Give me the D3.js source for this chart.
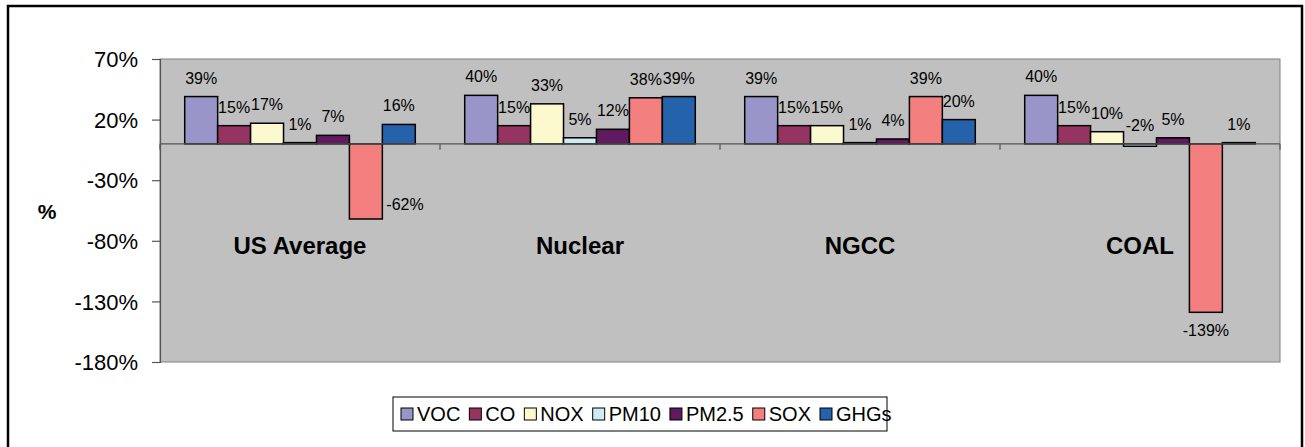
<!DOCTYPE html>
<html>
<head>
<meta charset="utf-8">
<script src="https://cdn.jsdelivr.net/npm/d3@7"></script>
<style>
  body { margin: 0; background: #fff; }
  svg text { font-family: "Liberation Sans", Arial, sans-serif; fill: #000; }
</style>
</head>
<body>
<div id="chart"></div>
<script>
// data
var categories = ["US Average", "Nuclear", "NGCC", "COAL"];
var series = ["VOC", "CO", "NOX", "PM10", "PM2.5", "SOX", "GHGs"];
var colors = ["#9995c9", "#953461", "#fbf9cd", "#cdebf0", "#611a5f", "#f37f7f", "#2562ac"];
var VOC   = [39, 40, 39, 40];
var CO    = [15, 15, 15, 15];
var NOX   = [17, 33, 15, 10];
var PM10  = [1, 5, 1, -2];
var PM25  = [7, 12, 4, 5];
var SOX   = [-62, 38, 39, -139];
var GHGs  = [16, 39, 20, 1];
var yTicks = [70, 20, -30, -80, -130, -180];

var seriesValues = [VOC, CO, NOX, PM10, PM25, SOX, GHGs];

var width = 1305, height = 447;
var plot = { left: 160, right: 1280, top: 59, bottom: 362 };

var svg = d3.select("#chart").append("svg")
    .attr("width", width)
    .attr("height", height);

// outer frame
svg.append("rect")
    .attr("x", 8).attr("y", 6)
    .attr("width", 1294).attr("height", 470)
    .attr("fill", "none")
    .attr("stroke", "#000")
    .attr("stroke-width", 2.5);

var y = d3.scaleLinear().domain([-180, 70]).range([plot.bottom, plot.top]);

var x0 = d3.scaleBand()
    .domain(categories)
    .range([plot.left, plot.right])
    .paddingInner(0).paddingOuter(0);

var x1 = d3.scaleBand()
    .domain(series)
    .range([0, x0.bandwidth()])
    .paddingInner(0)
    .paddingOuter(0.75);

// plot area
svg.append("rect")
    .attr("x", plot.left).attr("y", plot.top)
    .attr("width", plot.right - plot.left)
    .attr("height", plot.bottom - plot.top)
    .attr("fill", "#c0c0c0")
    .attr("stroke", "#808080")
    .attr("stroke-width", 1);

// y axis
var yAxis = d3.axisLeft(y)
    .tickValues(yTicks)
    .tickSize(8)
    .tickFormat(function (d) { return d + "%"; });

var gy = svg.append("g")
    .attr("transform", "translate(" + plot.left + ",0)")
    .call(yAxis);
gy.select(".domain").attr("stroke", "#555").attr("stroke-width", 1.2);
gy.selectAll(".tick line").attr("stroke", "#555").attr("stroke-width", 1.2);
gy.selectAll(".tick text")
    .attr("x", -22)
    .attr("dy", "0.35em")
    .style("font-size", "22px")
    .style("font-family", "'Liberation Sans', Arial, sans-serif")
    .attr("fill", "#000");

// axis title
svg.append("text")
    .attr("x", 47).attr("y", 219)
    .attr("text-anchor", "middle")
    .style("font-size", "21px")
    .style("font-weight", "bold")
    .text("%");

// category labels inside the plot
svg.selectAll(".cat")
    .data(categories)
    .enter().append("text")
    .attr("class", "cat")
    .attr("x", function (d) { return x0(d) + x0.bandwidth() / 2; })
    .attr("y", 254)
    .attr("text-anchor", "middle")
    .style("font-size", "24px")
    .style("font-weight", "bold")
    .text(function (d) { return d; });

// bars
var groups = svg.selectAll(".grp")
    .data(categories)
    .enter().append("g")
    .attr("class", "grp")
    .attr("transform", function (d) { return "translate(" + x0(d) + ",0)"; });

var cells = groups.selectAll(".bar")
    .data(function (c, ci) {
        return series.map(function (s, si) {
            return { cat: c, name: s, i: si, value: seriesValues[si][ci] };
        });
    })
    .enter();

cells.append("rect")
    .attr("class", "bar")
    .attr("x", function (d) { return x1(d.name); })
    .attr("y", function (d) { return y(Math.max(0, d.value)); })
    .attr("width", x1.bandwidth())
    .attr("height", function (d) { return Math.abs(y(d.value) - y(0)); })
    .attr("fill", function (d) { return colors[d.i]; })
    .attr("stroke", "#000")
    .attr("stroke-width", 1.5);

// zero line with category ticks
svg.append("line")
    .attr("x1", plot.left).attr("x2", plot.right)
    .attr("y1", y(0)).attr("y2", y(0))
    .attr("stroke", "#555").attr("stroke-width", 1.2);

svg.selectAll(".ctick")
    .data(categories.concat(["end"]))
    .enter().append("line")
    .attr("x1", function (d, i) { return plot.left + i * x0.bandwidth(); })
    .attr("x2", function (d, i) { return plot.left + i * x0.bandwidth(); })
    .attr("y1", y(0)).attr("y2", y(0) + 6)
    .attr("stroke", "#555").attr("stroke-width", 1.2);

// value labels; a negative label that would hit the category name goes beside the bar
function besideBar(d) {
    var b = y(d.value) + 24;
    return d.value < -10 && b > 225 && b < 262;
}

cells.append("text")
    .attr("class", "lbl")
    .style("font-size", "16px")
    .attr("text-anchor", function (d) { return besideBar(d) ? "start" : "middle"; })
    .attr("x", function (d) {
        if (besideBar(d)) return x1(d.name) + x1.bandwidth() + 4;
        return x1(d.name) + x1.bandwidth() / 2;
    })
    .attr("y", function (d) {
        if (d.value >= -10) return y(Math.max(0, d.value)) - 13;
        if (besideBar(d)) return y(d.value) - 9;
        return y(d.value) + 24;
    })
    .text(function (d) { return d.value + "%"; });

// legend
var legend = svg.append("g").attr("class", "legend");
legend.append("rect")
    .attr("x", 393).attr("y", 397)
    .attr("width", 494).attr("height", 34)
    .attr("fill", "#fff")
    .attr("stroke", "#000")
    .attr("stroke-width", 1);

var lx = 401;
series.forEach(function (s, i) {
    legend.append("rect")
        .attr("x", lx).attr("y", 408)
        .attr("width", 12).attr("height", 12)
        .attr("fill", colors[i])
        .attr("stroke", "#000")
        .attr("stroke-width", 1);
    var t = legend.append("text")
        .attr("x", lx + 16).attr("y", 421)
        .style("font-size", "20px")
        .text(s);
    lx += 16 + t.node().getComputedTextLength() + 9;
});
</script>
</body>
</html>
